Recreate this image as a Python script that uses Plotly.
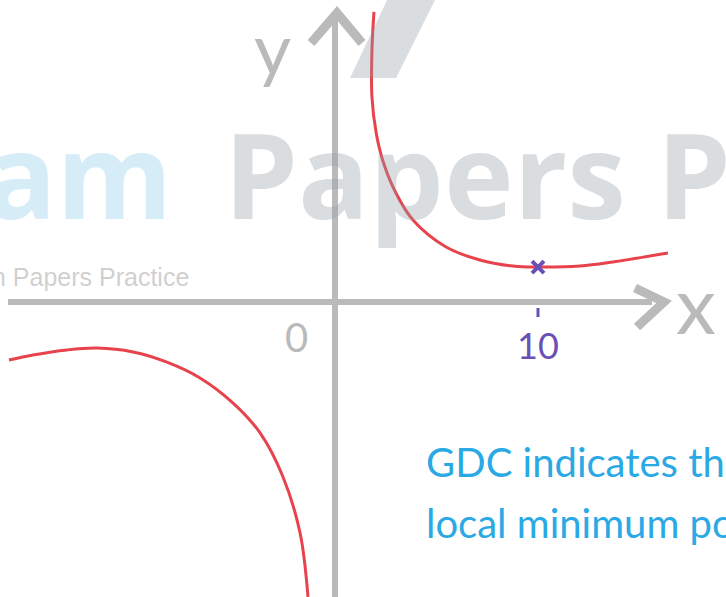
import plotly.graph_objects as go

# Curve samples (x, y)
right_x = [1.92, 1.82, 1.82, 2.03, 2.36, 3.00, 3.84, 5.47, 7.14, 8.77, 10.0, 12.07, 13.69, 16.40]
right_y = [14.29, 12.41, 10.10, 8.32, 6.95, 5.37, 4.04, 2.71, 2.07, 1.77, 1.72, 1.77, 1.97, 2.41]

left_x = [-16.06, -14.88, -13.20, -11.72, -9.95, -8.28, -6.65, -5.02, -3.69, -2.56, -1.72, -1.33]
left_y = [-2.86, -2.61, -2.36, -2.27, -2.46, -2.96, -3.74, -4.98, -6.45, -8.62, -11.38, -14.53]

# Local minimum marked on the curve
min_x = [10.0]
min_y = [1.72]

x_tick_values = [0, 10]
x_tick_labels = ["0", "10"]

line_text = ["GDC indicates the", "local minimum point"]

# Canvas geometry: 20.3 px per unit, origin at (335, 302) px
W, H = 726, 597
PX = 20.3
OX, OY = 335, 302
x_range = [-OX / PX, (W - OX) / PX]
y_range = [-(H - OY) / PX, OY / PX]


def dx(px):
    return (px - OX) / PX


def dy(py):
    return (OY - py) / PX


AXIS = "#bababa"
RED = "#e8434c"
PURPLE = "#6a50b4"
BLUE = "#2aa9e4"

fig = go.Figure()

# Coordinate axes with hand-drawn chevron heads
fig.add_trace(go.Scatter(x=[dx(8), dx(652)], y=[dy(302), dy(302)], mode="lines",
                         line=dict(color=AXIS, width=6), hoverinfo="skip"))
fig.add_trace(go.Scatter(x=[dx(635), dx(664), dx(637)], y=[dy(288), dy(302), dy(327)], mode="lines",
                         line=dict(color=AXIS, width=9), hoverinfo="skip"))
fig.add_trace(go.Scatter(x=[dx(335), dx(335)], y=[dy(600), dy(16)], mode="lines",
                         line=dict(color=AXIS, width=6), hoverinfo="skip"))
fig.add_trace(go.Scatter(x=[dx(311), dx(337), dx(362)], y=[dy(43), dy(13), dy(43)], mode="lines",
                         line=dict(color=AXIS, width=9), hoverinfo="skip"))

# The two branches of the graph
fig.add_trace(go.Scatter(x=right_x, y=right_y, mode="lines",
                         line=dict(color=RED, width=3, shape="spline", smoothing=1.0), hoverinfo="skip"))
fig.add_trace(go.Scatter(x=left_x, y=left_y, mode="lines",
                         line=dict(color=RED, width=3, shape="spline", smoothing=1.0), hoverinfo="skip"))

# Minimum point and its tick on the x-axis
fig.add_trace(go.Scatter(x=min_x, y=min_y, mode="markers",
                         marker=dict(symbol="x-thin", size=12, line=dict(color=PURPLE, width=4)),
                         hoverinfo="skip"))
fig.add_trace(go.Scatter(x=[x_tick_values[1], x_tick_values[1]], y=[dy(308), dy(317)], mode="lines",
                         line=dict(color=PURPLE, width=3), hoverinfo="skip"))

annotations = []
HAND = "Lato"

# Axis labels
annotations.append(dict(x=dx(272), y=dy(0), yanchor="top", text="y", showarrow=False,
                        font=dict(family=HAND, size=72, color=AXIS), yshift=-2))
annotations.append(dict(x=dx(674), y=dy(303), xanchor="left", text="x", showarrow=False,
                        font=dict(family=HAND, size=80, color=AXIS)))
annotations.append(dict(x=dx(296), y=dy(337), text=x_tick_labels[0], showarrow=False,
                        font=dict(family=HAND, size=40, color=AXIS)))
annotations.append(dict(x=x_tick_values[1], y=dy(345), text=x_tick_labels[1], showarrow=False,
                        font=dict(family=HAND, size=36, color=PURPLE)))

# Note about the GDC result
annotations.append(dict(x=dx(424), y=dy(462), xanchor="left", text=line_text[0], showarrow=False,
                        font=dict(family=HAND, size=40, color=BLUE)))
annotations.append(dict(x=dx(424), y=dy(523), xanchor="left", text=line_text[1], showarrow=False,
                        font=dict(family=HAND, size=40, color=BLUE)))

# Watermark
annotations.append(dict(x=dx(174), y=dy(173), xanchor="right", text="Exam", showarrow=False,
                        font=dict(family="Open Sans", size=118, weight=700, color="rgba(138,201,229,0.35)")))
annotations.append(dict(x=dx(222), y=dy(173), xanchor="left", text="Papers Practice", showarrow=False,
                        font=dict(family="Open Sans", size=118, weight=700, color="rgba(146,158,166,0.35)")))
annotations.append(dict(x=dx(191), y=dy(277), xanchor="right", text="Exam Papers Practice", showarrow=False,
                        font=dict(family="Liberation Sans", size=25, color="rgba(130,130,130,0.4)")))

logo = "M {},{} L {},{} L {},{} L {},{} Z".format(dx(388), dy(-2), dx(436), dy(-2), dx(396), dy(78), dx(350), dy(78))

fig.update_layout(
    width=W, height=H,
    margin=dict(l=0, r=0, t=0, b=0),
    paper_bgcolor="white", plot_bgcolor="white",
    showlegend=False,
    xaxis=dict(range=x_range, visible=False, fixedrange=True),
    yaxis=dict(range=y_range, visible=False, fixedrange=True),
    annotations=annotations,
    shapes=[dict(type="path", path=logo, xref="x", yref="y", layer="above",
                 fillcolor="rgba(146,158,166,0.35)", line=dict(width=0))],
)

fig.write_html("out.html")
